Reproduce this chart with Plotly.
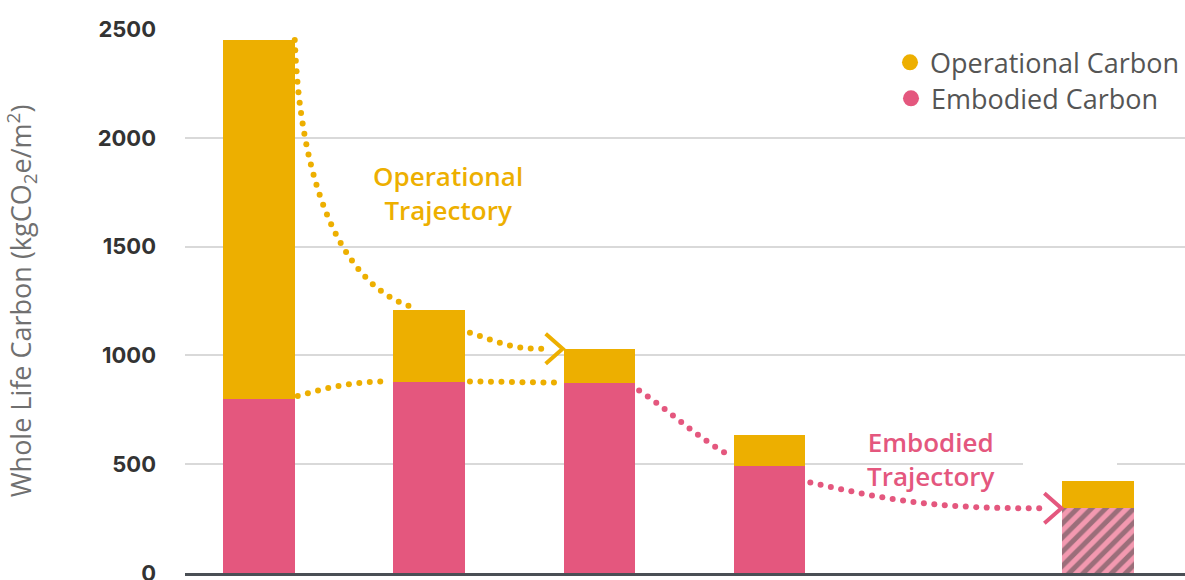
import numpy as np
import plotly.graph_objects as go

# ---------------- data ----------------
scenarios = ["Scenario 1", "Scenario 2", "Scenario 3", "Scenario 4", "Scenario 5"]
positions = [0, 1, 2, 3, 4.93]
embodied = [800, 880, 875, 490, 297]
operational = [1650, 330, 155, 145, 128]          # stacked on top of embodied
y_ticks = [0, 500, 1000, 1500, 2000, 2500]
legend_names = ["Operational Carbon", "Embodied Carbon"]
label_operational = "Operational<br>Trajectory"
label_embodied = "Embodied<br>Trajectory"
y_title = "Whole Life Carbon (kgCO<sub>2</sub>e/m<sup>2</sup>)"

ORANGE = "#EDAF00"
PINK = "#E4577E"
PINK_LIGHT = "#FDE6EC"
PINK_HATCH = "#F399B0"

# ---------------- geometry ----------------
W, H = 1185, 580
L, R, T, B = 185, 1185, 29, 573
BAR_W = 0.42
X_RANGE = [-(259 - L) / 170.2, (R - 259) / 170.2]
Y_RANGE = [0, 2500]

sx = (R - L) / (X_RANGE[1] - X_RANGE[0])
sy = (B - T) / (Y_RANGE[1] - Y_RANGE[0])


def to_px(x, y):
    return L + (x - X_RANGE[0]) * sx, B - (y - Y_RANGE[0]) * sy


def to_data(px, py):
    return X_RANGE[0] + (px - L) / sx, Y_RANGE[0] + (B - py) / sy


totals = [e + o for e, o in zip(embodied, operational)]
hw = BAR_W / 2


def bezier_dots(p0, p1, p2, p3, spacing=10.5):
    t = np.linspace(0, 1, 800)[:, None]
    P = ((1 - t) ** 3) * np.array(p0) + 3 * ((1 - t) ** 2) * t * np.array(p1) \
        + 3 * (1 - t) * t ** 2 * np.array(p2) + t ** 3 * np.array(p3)
    seg = np.sqrt(((P[1:] - P[:-1]) ** 2).sum(axis=1))
    s = np.concatenate([[0], np.cumsum(seg)])
    targets = np.arange(0, s[-1] + 0.01, spacing)
    xs = np.interp(targets, s, P[:, 0])
    ys = np.interp(targets, s, P[:, 1])
    d = [to_data(a, b) for a, b in zip(xs, ys)]
    return [q[0] for q in d], [q[1] for q in d]


def add(a, b):
    return (a[0] + b[0], a[1] + b[1])


fig = go.Figure()

# bars
fig.add_trace(go.Bar(
    x=positions, y=embodied, width=BAR_W, showlegend=False, hoverinfo="skip",
    marker=dict(color=[PINK] * 4 + [PINK_HATCH], line=dict(width=0),
                pattern=dict(shape=[""] * 4 + ["/"], fgcolor=PINK_LIGHT,
                             bgcolor=PINK_HATCH, size=10, solidity=0.5)),
))
fig.add_trace(go.Bar(
    x=positions, y=operational, width=BAR_W, showlegend=False, hoverinfo="skip",
    marker=dict(color=ORANGE, line=dict(width=0)),
))

# ---------- trajectories ----------
dot = dict(size=6, symbol="circle")


def dots_trace(xs, ys, col):
    fig.add_trace(go.Scatter(x=xs, y=ys, mode="markers", marker=dict(color=col, **dot),
                             showlegend=False, hoverinfo="skip"))


def arrow_trace(tip, col):
    arm = [add(tip, (-17, -15)), tip, add(tip, (-17, 15))]
    ad = [to_data(*a) for a in arm]
    fig.add_trace(go.Scatter(x=[a[0] for a in ad], y=[a[1] for a in ad], mode="lines",
                             line=dict(color=col, width=4), showlegend=False,
                             hoverinfo="skip"))


# operational: bar1 top -> bar2 top
p0 = to_px(positions[0] + hw, totals[0])
p3 = add(to_px(positions[1] - hw, totals[1]), (21, -2))
dots_trace(*bezier_dots(p0, add(p0, (6, 160)), add(p3, (-65, -18)), p3), ORANGE)
# operational: bar2 -> bar3 with arrow
p0 = add(to_px(positions[1] + hw, totals[1]), (5, 23))
tip = add(to_px(positions[2] - hw, totals[2]), (-1, 0))
p3 = add(tip, (-20, 0))
dots_trace(*bezier_dots(p0, add(p0, (30, 10)), add(p3, (-30, 0)), p3), ORANGE)
arrow_trace(tip, ORANGE)

# embodied level (orange dots): bar1 -> bar2 -> bar3
p0 = to_px(positions[0] + hw, embodied[0])
p3 = add(to_px(positions[1] - hw, embodied[1]), (-5, 0))
dots_trace(*bezier_dots(add(p0, (3, -3)), add(p0, (35, -12)), add(p3, (-35, 0)), p3), ORANGE)
p0 = add(to_px(positions[1] + hw, embodied[1]), (5, 0))
p3 = add(to_px(positions[2] - hw, embodied[2]), (-4, 0))
dots_trace(*bezier_dots(p0, add(p0, (30, 0)), add(p3, (-30, 0)), p3), ORANGE)

# embodied trajectory (pink): bar3 -> bar4
p0 = add(to_px(positions[2] + hw, embodied[2]), (4, 8))
p3 = add(to_px(positions[3] - hw, embodied[3]), (-3, -10))
dots_trace(*bezier_dots(p0, add(p0, (30, 20)), add(p3, (-35, -20)), p3), PINK)
# bar4 -> bar5 with arrow
p0 = add(to_px(positions[3] + hw, embodied[3]), (5, 16))
tip = add(to_px(positions[4] - hw, embodied[4]), (-1, 0))
p3 = add(tip, (-20, 0))
dots_trace(*bezier_dots(p0, add(p0, (80, 18)), add(p3, (-110, 0)), p3), PINK)
arrow_trace(tip, PINK)

# legend entries (one legend box each so the row spacing can be matched)
for name, col, lg in zip(legend_names, [ORANGE, PINK], ["legend", "legend2"]):
    fig.add_trace(go.Scatter(x=[None], y=[None], mode="markers", name=name, legend=lg,
                             marker=dict(color=col, size=20, symbol="circle")))

# gap in the gridline near last bar
gx0, _ = to_data(1023, 0)
gx1, _ = to_data(1117, 0)
fig.add_shape(type="rect", xref="x", yref="y", x0=gx0, x1=gx1, y0=480, y1=520,
              fillcolor="white", line=dict(width=0), layer="between")

TXT_FONT = "Open Sans"
ax, ay = to_data(448, 193)
fig.add_annotation(x=ax, y=ay, text=label_operational, showarrow=False,
                   font=dict(family=TXT_FONT, size=26, color=ORANGE, weight=600),
                   align="center")
ax, ay = to_data(931, 459)
fig.add_annotation(x=ax, y=ay, text=label_embodied, showarrow=False,
                   font=dict(family=TXT_FONT, size=26, color=PINK, weight=600),
                   align="center")

leg_font = dict(family=TXT_FONT, size=27, color="#555555")
fig.update_layout(
    width=W, height=H,
    margin=dict(l=L, r=W - R, t=T, b=H - B, autoexpand=False),
    paper_bgcolor="white", plot_bgcolor="white",
    barmode="stack",
    showlegend=True,
    legend=dict(x=1.0, y=0.983, xanchor="right", yanchor="top",
                bgcolor="rgba(0,0,0,0)", itemsizing="trace", font=leg_font),
    legend2=dict(x=0.706, y=0.983 - 36 / 544, xanchor="left", yanchor="top",
                 bgcolor="rgba(0,0,0,0)", itemsizing="trace", font=leg_font),
    xaxis=dict(range=X_RANGE, showticklabels=False, showgrid=False, zeroline=False,
               showline=True, linecolor="#4a4f55", linewidth=3, fixedrange=True,
               automargin=False),
    yaxis=dict(range=Y_RANGE, tickvals=y_ticks, showgrid=True, gridcolor="#d9d9d9",
               gridwidth=2, zeroline=False, showline=False, ticks="", automargin=False,
               ticklabelstandoff=28, ticklabeloverflow="allow",
               tickfont=dict(family="Inter", size=22, color="#333333", weight="bold"),
               title=dict(text=y_title, standoff=62,
                          font=dict(family=TXT_FONT, size=27, color="#707070"))),
)

fig.write_html("out.html", config={"displayModeBar": False},
               post_script="document.body.style.margin='0';")
